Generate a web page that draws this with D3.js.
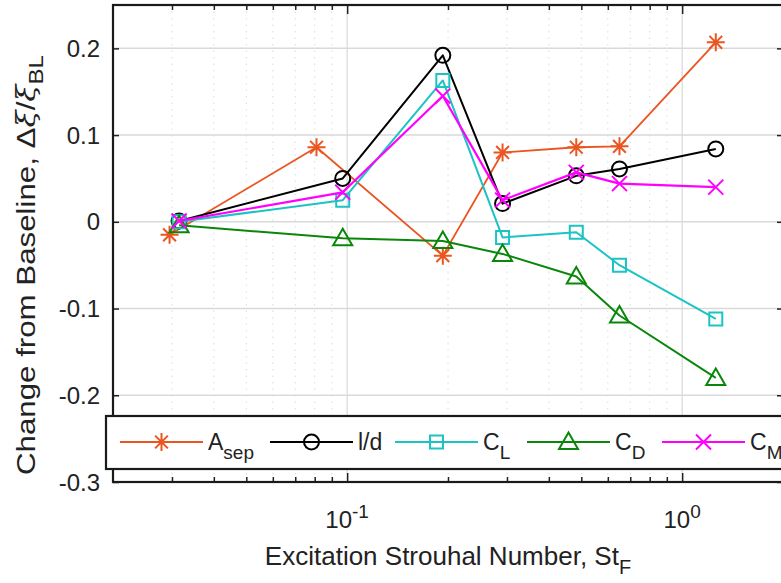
<!DOCTYPE html>
<html>
<head>
<meta charset="utf-8">
<script src="https://cdn.jsdelivr.net/npm/d3@7"></script>
<style>
  html, body { margin: 0; padding: 0; background: #fff; }
  svg { display: block; font-family: "Liberation Sans", Arial, Helvetica, sans-serif; }
</style>
</head>
<body>
<svg id="chart" width="781" height="583"></svg>
<script>
// Excitation Strouhal numbers (A_sep was sampled at a slightly different set)
const stAsep  = [0.0295, 0.081, 0.193, 0.291, 0.483, 0.65, 1.26];
const stForce = [0.0315, 0.097, 0.193, 0.291, 0.483, 0.65, 1.26];

// Normalised change from baseline for each quantity
const aSep = [-0.015, 0.086, -0.039, 0.080, 0.086, 0.087, 0.207];
const lOverD = [0.001, 0.050, 0.192, 0.021, 0.053, 0.061, 0.084];
const cL = [0.000, 0.025, 0.163, -0.018, -0.012, -0.050, -0.112];
const cD = [-0.004, -0.019, -0.022, -0.037, -0.063, -0.108, -0.180];
const cM = [0.001, 0.034, 0.145, 0.025, 0.057, 0.044, 0.040];

const yTicks = [-0.3, -0.2, -0.1, 0, 0.1, 0.2];
const xMajorTicks = [0.1, 1];
const xMinorTicks = [0.03, 0.04, 0.05, 0.06, 0.07, 0.08, 0.09,
                     0.2, 0.3, 0.4, 0.5, 0.6, 0.7, 0.8, 0.9];

const series = [
  { name: "A", sub: "sep", x: stAsep,  y: aSep,   color: "#ea5520", marker: "star",     width: 1.8 },
  { name: "l/d", sub: "",  x: stForce, y: lOverD, color: "#000000", marker: "circle",   width: 2 },
  { name: "C", sub: "L",   x: stForce, y: cL,     color: "#1cc3c3", marker: "square",   width: 2 },
  { name: "C", sub: "D",   x: stForce, y: cD,     color: "#0a870a", marker: "triangle", width: 2 },
  { name: "C", sub: "M",   x: stForce, y: cM,     color: "#ff00ff", marker: "cross",    width: 2.2 }
];

const svg = d3.select("#chart");
const pL = 113, pR = 783, pT = 5, pB = 482;

const x = d3.scaleLog().domain([0.02, 2]).range([pL, pR]);
const y = d3.scaleLinear().domain([-0.3, 0.25]).range([pB, pT]);

// grid
const grid = svg.append("g");
grid.selectAll("line.minor").data(xMinorTicks).join("line")
  .attr("x1", d => x(d)).attr("x2", d => x(d))
  .attr("y1", pT).attr("y2", pB)
  .attr("stroke", "#dcdcdc").attr("stroke-width", 1)
  .attr("stroke-dasharray", "1.5,5");
grid.append("g").selectAll("line").data(xMajorTicks).join("line")
  .attr("x1", d => x(d)).attr("x2", d => x(d))
  .attr("y1", pT).attr("y2", pB)
  .attr("stroke", "#d9d9d9").attr("stroke-width", 1.2);
grid.append("g").selectAll("line").data(yTicks.filter(d => d > -0.3)).join("line")
  .attr("x1", pL).attr("x2", pR)
  .attr("y1", d => y(d)).attr("y2", d => y(d))
  .attr("stroke", "#d9d9d9").attr("stroke-width", 1.5);

// axes (ticks point inward, box on)
const axL = d3.axisRight(y).tickValues(yTicks).tickSize(6).tickFormat("");
svg.append("g").attr("transform", `translate(${pL},0)`).call(axL);
const axR = d3.axisLeft(y).tickValues(yTicks).tickSize(6).tickFormat("");
svg.append("g").attr("transform", `translate(${pR},0)`).call(axR);
const axB = d3.axisTop(x).tickValues(xMajorTicks).tickSize(9).tickFormat("");
svg.append("g").attr("transform", `translate(0,${pB})`).call(axB);
const axBm = d3.axisTop(x).tickValues(xMinorTicks).tickSize(5).tickFormat("");
svg.append("g").attr("transform", `translate(0,${pB})`).call(axBm);
const axT = d3.axisBottom(x).tickValues(xMajorTicks).tickSize(9).tickFormat("");
svg.append("g").attr("transform", `translate(0,${pT})`).call(axT);
const axTm = d3.axisBottom(x).tickValues(xMinorTicks).tickSize(5).tickFormat("");
svg.append("g").attr("transform", `translate(0,${pT})`).call(axTm);
svg.selectAll(".domain").remove();
svg.selectAll(".tick line").attr("stroke", "#222").attr("stroke-width", 1.5);

svg.append("rect").attr("x", pL).attr("y", pT)
  .attr("width", pR - pL).attr("height", pB - pT)
  .attr("fill", "none").attr("stroke", "#1a1a1a").attr("stroke-width", 2.2);

// tick labels
svg.append("g").selectAll("text").data(yTicks).join("text")
  .attr("x", pL - 13).attr("y", d => y(d)).attr("dy", "0.36em")
  .attr("text-anchor", "end").attr("font-size", 24).attr("fill", "#222")
  .text(d => d === 0 ? "0" : d3.format(".1f")(d).replace("\u2212", "-"));

const xl = svg.append("g").selectAll("text").data(xMajorTicks).join("text")
  .attr("x", d => x(d)).attr("y", 528)
  .attr("text-anchor", "middle").attr("font-size", 24).attr("fill", "#222");
xl.append("tspan").text("10");
xl.append("tspan").attr("dy", -10).attr("font-size", 19)
  .text(d => String(Math.round(Math.log10(d))));

// axis titles
const xt = svg.append("text").attr("x", (pL + pR) / 2).attr("y", 565)
  .attr("text-anchor", "middle").attr("font-size", 26).attr("fill", "#222");
xt.append("tspan").text("Excitation Strouhal Number, St");
xt.append("tspan").attr("dy", 9).attr("font-size", 20).text("F");

const yt = svg.append("text")
  .attr("transform", "translate(35,265) rotate(-90)")
  .attr("text-anchor", "middle").attr("font-size", 26).attr("fill", "#222")
  .attr("textLength", 420).attr("lengthAdjust", "spacingAndGlyphs");
yt.append("tspan").text("Change from Baseline, \u0394");
yt.append("tspan").attr("font-family", "DejaVu Serif").attr("font-style", "italic").text("\u03BE");
yt.append("tspan").text("/");
yt.append("tspan").attr("font-family", "DejaVu Serif").attr("font-style", "italic").text("\u03BE");
yt.append("tspan").attr("dy", 8).attr("font-size", 20).text("BL");

// marker shapes
function markerPath(type) {
  switch (type) {
    case "star": {
      const r = 9, d = 6.4;
      return `M0,${-r}V${r}M${-r},0H${r}M${-d},${-d}L${d},${d}M${-d},${d}L${d},${-d}`;
    }
    case "circle": {
      const r = 7.5;
      return `M${r},0A${r},${r} 0 1,1 ${-r},0A${r},${r} 0 1,1 ${r},0Z`;
    }
    case "square": { const s = 6.5; return `M${-s},${-s}H${s}V${s}H${-s}Z`; }
    case "triangle": return "M0,-9.5L9.5,7L-9.5,7Z";
    case "cross": { const s = 7.5; return `M${-s},${-s}L${s},${s}M${-s},${s}L${s},${-s}`; }
  }
}

const line = d3.line().x(d => x(d[0])).y(d => y(d[1]));
series.forEach(s => {
  const pts = s.x.map((v, i) => [v, s.y[i]]);
  svg.append("path").datum(pts).attr("d", line)
    .attr("fill", "none").attr("stroke", s.color).attr("stroke-width", s.width)
    .attr("stroke-linejoin", "round");
  svg.append("g").selectAll("path").data(pts).join("path")
    .attr("transform", d => `translate(${x(d[0])},${y(d[1])})`)
    .attr("d", markerPath(s.marker))
    .attr("fill", "none").attr("stroke", s.color).attr("stroke-width", 2);
});

// legend
const lg = svg.append("g");
lg.append("rect").attr("x", 106).attr("y", 416).attr("width", 720).attr("height", 53)
  .attr("fill", "#fff").attr("stroke", "#1a1a1a").attr("stroke-width", 2.2);
const legendX = [120, 270, 395, 527, 662];
series.forEach((s, i) => {
  const lx = legendX[i], ly = 442;
  lg.append("line").attr("x1", lx).attr("x2", lx + 83).attr("y1", ly).attr("y2", ly)
    .attr("stroke", s.color).attr("stroke-width", s.width);
  lg.append("path").attr("transform", `translate(${lx + 41.5},${ly})`)
    .attr("d", markerPath(s.marker))
    .attr("fill", "none").attr("stroke", s.color).attr("stroke-width", 2);
  const t = lg.append("text").attr("x", lx + 88).attr("y", ly + 8)
    .attr("font-size", 23).attr("fill", "#222");
  t.append("tspan").text(s.name);
  if (s.sub) t.append("tspan").attr("dy", 9).attr("font-size", 19).text(s.sub);
});
</script>
</body>
</html>
